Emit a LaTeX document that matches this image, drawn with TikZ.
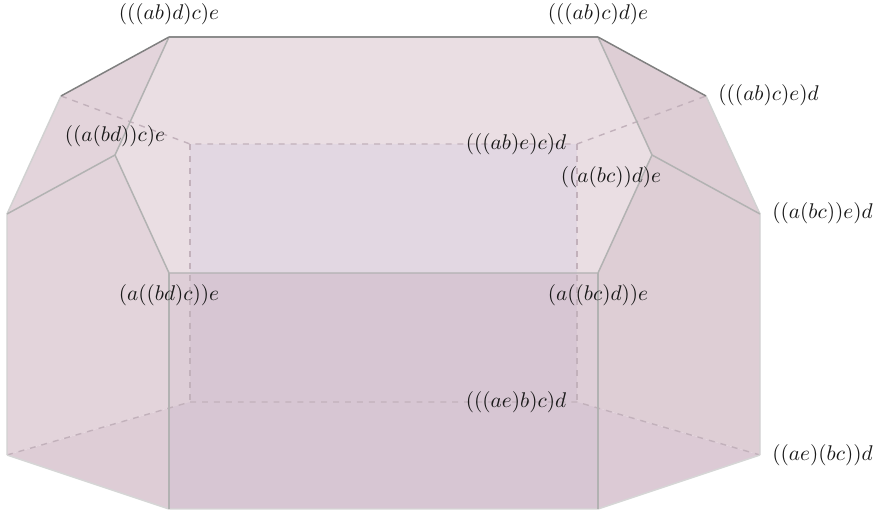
\documentclass[tikz,border=0pt]{standalone}
\usepackage{amssymb}
\definecolor{topface}{HTML}{EADEE3}
\definecolor{backface}{HTML}{E2D7E2}
\definecolor{leftface}{HTML}{E3D4DB}
\definecolor{leftlow}{HTML}{DECDD6}
\definecolor{rightface}{HTML}{DECED5}
\definecolor{rightlow}{HTML}{DCCAD5}
\definecolor{frontface}{HTML}{D7C6D3}
\definecolor{stripface}{HTML}{DECED7}
\definecolor{hiddenline}{HTML}{C2B1BB}
\tikzset{
	edge/.style={line width=0.7pt,color=#1},
	edge/.default={black!30},
	hidden/.style={line width=0.65pt,color=hiddenline,dash pattern=on 2.8pt off 2.8pt},
	vlabel/.style={inner sep=0pt,text=black!90}
}
\newcommand{\faceFill}[2]{\fill[#1] #2 -- cycle}

\begin{document}
\begin{tikzpicture}[x=0.47pt,y=-0.47pt]
		\useasboundingbox (0,0) rectangle (874,511);
		
		% upper outline
		\coordinate (tl) at (169,37);
		\coordinate (tr) at (598,37);
		\coordinate (ul) at (61,96);
		\coordinate (ur) at (706,96);
		\coordinate (ml) at (115,155);
		\coordinate (mr) at (652,155);
		\coordinate (sl) at (7,214);
		\coordinate (sr) at (760,214);
		% front
		\coordinate (fa) at (169,273);
		\coordinate (fb) at (598,273);
		\coordinate (fc) at (598,509);
		\coordinate (fd) at (169,509);
		\coordinate (bl) at (7,455);
		\coordinate (br) at (760,455);
		% back
		\coordinate (ka) at (190,144);
		\coordinate (kb) at (577,144);
		\coordinate (kc) at (577,402);
		\coordinate (kd) at (190,402);
		% where the back lines pass behind the front
		\coordinate (xl) at (169,408);
		\coordinate (xr) at (598,408);
		\coordinate (ya) at (190,273);
		\coordinate (yb) at (577,273);
		
		\faceFill{topface}{(tl) -- (tr) -- (mr) -- (fb) -- (fa) -- (ml)};
		\faceFill{backface}{(ka) -- (kb) -- (yb) -- (ya)};
		\faceFill{leftface}{(tl) -- (ul) -- (sl) -- (ml)};
		\faceFill{leftface}{(sl) -- (ml) -- (fa) -- (xl) -- (bl)};
		\faceFill{leftlow}{(bl) -- (xl) -- (fd)};
		\faceFill{rightface}{(tr) -- (ur) -- (sr) -- (mr)};
		\faceFill{rightface}{(sr) -- (mr) -- (fb) -- (xr) -- (br)};
		\faceFill{rightlow}{(br) -- (xr) -- (fc)};
		\faceFill{frontface}{(fa) -- (fb) -- (fc) -- (fd)};
		\faceFill{stripface}{(fa) -- (ya) -- (kd) -- (xl)};
		\faceFill{stripface}{(yb) -- (fb) -- (xr) -- (kc)};
		
		\begin{scope}[hidden]
			\draw (ul) to (ka) to (kb) to (ur);
			\draw (bl) to (kd) to (kc) to (br);
			\draw (ka) to (kd);
			\draw (kb) to (kc);
		\end{scope}
		
		\draw[edge=black!18] (ul) to (sl) to (bl);
		\draw[edge=black!18] (ur) to (sr) to (br);
		\draw[edge=black!16] (bl) to (fd) to (fc) to (br);
		\draw[edge] (tl) to (ml) to (fa) to (fb) to (mr) to (tr);
		\draw[edge] (sl) to (ml);
		\draw[edge] (sr) to (mr);
		\draw[edge] (fa) to (fd);
		\draw[edge] (fb) to (fc);
		\draw[edge=black!50] (ul) to (tl);
		\draw[edge=black!45] (tl) to (tr);
		\draw[edge=black!50] (tr) to (ur);
		
		\node[vlabel] (tlLabel) at (169,14) {$(((ab)d)c)e$};
		\node[vlabel] (trLabel) at (598,14) {$(((ab)c)d)e$};
		\node[vlabel,anchor=west] (urLabel) at (718,95) {$(((ab)c)e)d$};
		\node[vlabel] (mlLabel) at (115,136) {$((a(bd))c)e$};
		\node[vlabel] (kbLabel) at (516,144) {$(((ab)e)c)d$};
		\node[vlabel] (mrLabel) at (611,177) {$((a(bc))d)e$};
		\node[vlabel,anchor=west] (srLabel) at (772,213) {$((a(bc))e)d$};
		\node[vlabel] (faLabel) at (169,295) {$(a((bd)c))e$};
		\node[vlabel] (fbLabel) at (598,295) {$(a((bc)d))e$};
		\node[vlabel] (kcLabel) at (516,402) {$(((ae)b)c)d$};
		\node[vlabel,anchor=west] (brLabel) at (772,455) {$((ae)(bc))d$};
	\end{tikzpicture}
\end{document}
